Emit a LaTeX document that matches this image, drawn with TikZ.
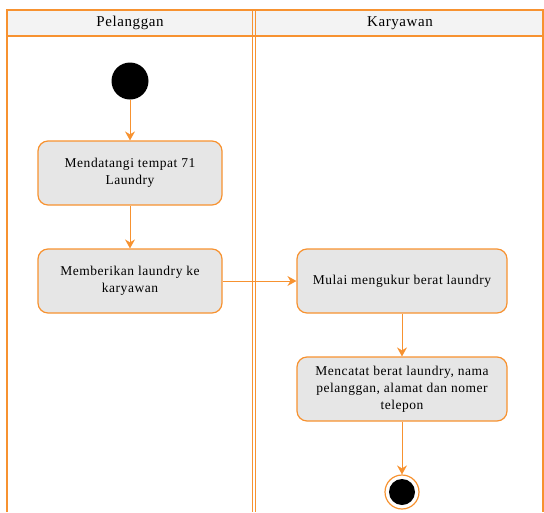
\documentclass[tikz,border=0pt]{standalone}
\usepackage{fontspec}
\setmainfont{Liberation Serif}
\usetikzlibrary{arrows.meta}
\definecolor{laneorange}{RGB}{247,146,48}
\definecolor{actfill}{RGB}{230,230,230}
\definecolor{headfill}{RGB}{243,243,243}
\begin{document}
\begin{tikzpicture}[x=1pt,y=-1pt,
  lane/.style={draw=laneorange,line width=1.3pt},
  activity/.style={draw=laneorange,line width=1.2pt,fill=actfill,rounded corners=10pt,
    minimum width=184pt,minimum height=64pt,align=center,inner sep=2pt,
    font=\fontsize{13.5}{17}\selectfont\addfontfeature{LetterSpace=4}},
  flow/.style={draw=laneorange,line width=1pt,
    -{Stealth[length=9pt,width=10pt,inset=3pt]}},
  headtext/.style={font=\fontsize{15}{17}\selectfont\addfontfeature{LetterSpace=4}}
]
\useasboundingbox (0,0) rectangle (544,512);
% swimlane frame and header
\fill[headfill] (7,10) rectangle (543,36);
\draw[lane] (7,512) -- (7,10) -- (543,10) -- (543,512);
\draw[lane] (7,36) -- (543,36);
\draw[lane] (252.8,10) -- (252.8,512);
\draw[lane] (255.2,10) -- (255.2,512);
\node[headtext] (hPel) at (130,23) {Pelanggan};
\node[headtext] (hKar) at (400,23) {Karyawan};
% start node
\node[circle,fill=black,minimum size=37pt,inner sep=0pt] (start) at (130,81) {};
% activities
\node[activity] (a1) at (130,173) {Mendatangi tempat 71\\Laundry};
\node[activity] (a2) at (130,281) {Memberikan laundry ke\\karyawan};
\node[activity,minimum width=210pt] (a3) at (402,281) {Mulai mengukur berat laundry};
\node[activity,minimum width=210pt] (a4) at (402,389) {Mencatat berat laundry, nama\\pelanggan, alamat dan nomer\\telepon};
% end node
\node[circle,draw=laneorange,line width=1.2pt,fill=white,minimum size=34pt,inner sep=0pt] (endo) at (402,492) {};
\node[circle,fill=black,minimum size=26pt,inner sep=0pt] (endi) at (endo.center) {};
% control flows
\draw[flow] (start) -- (a1);
\draw[flow] (a1) -- (a2);
\draw[flow] (a2) -- (a3);
\draw[flow] (a3) -- (a4);
\draw[flow] (a4) -- (endo);
\end{tikzpicture}
\end{document}
